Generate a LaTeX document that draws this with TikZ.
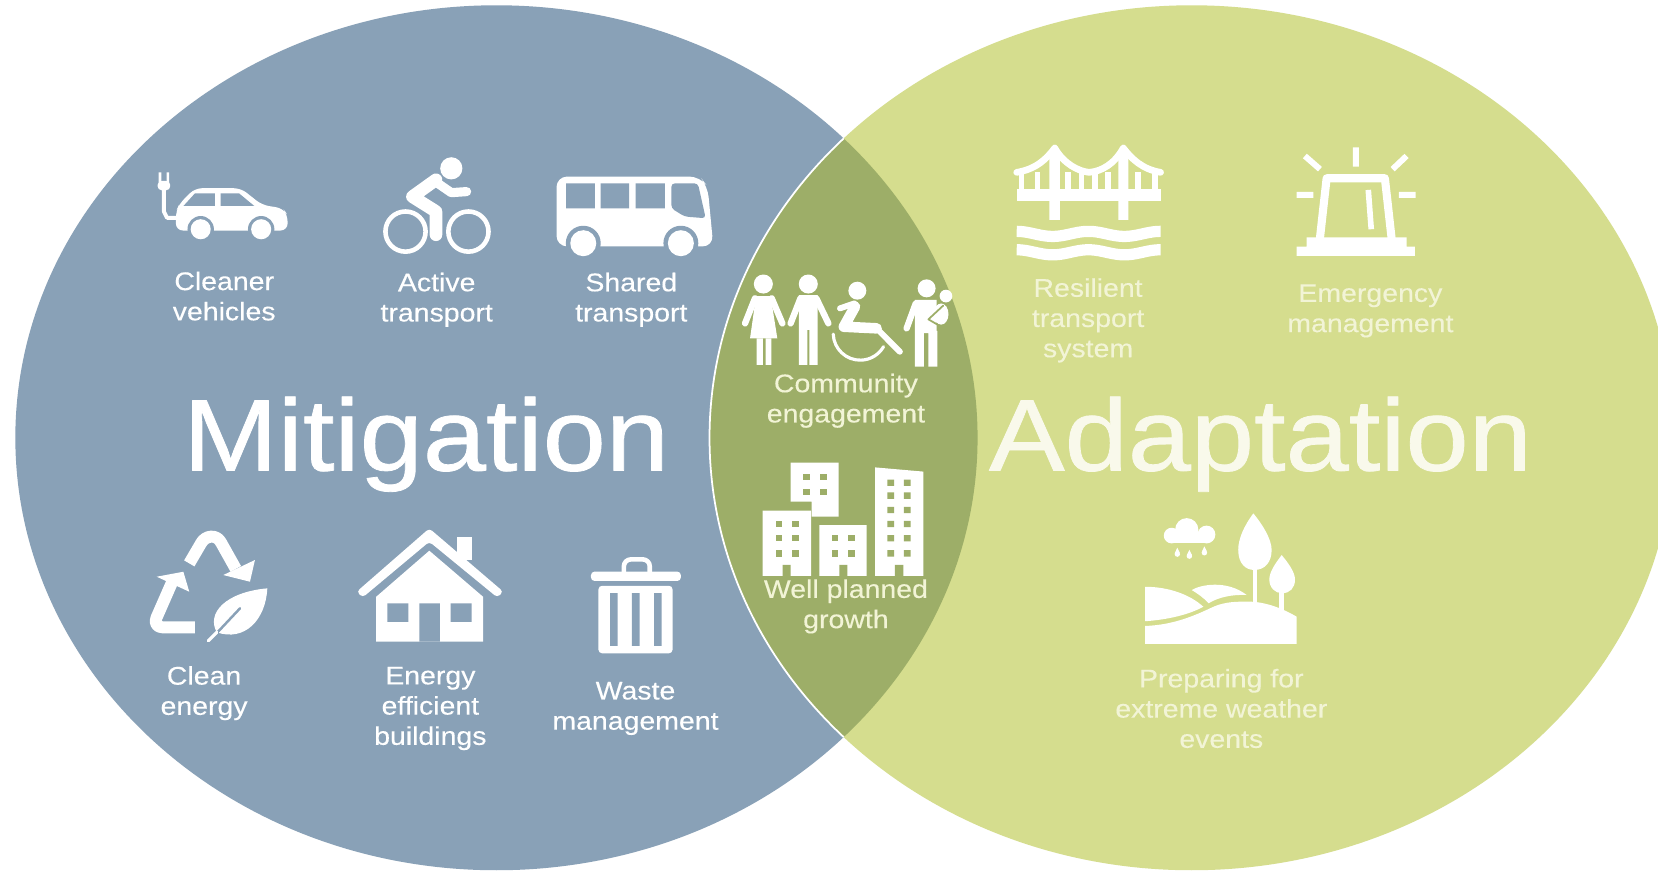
\documentclass[tikz,border=0pt]{standalone}
\usepackage{fontspec}
\setmainfont[FakeStretch=1.114,FakeBold=.25]{Liberation Sans}
\newfontfamily\bigfont[FakeStretch=1.114,FakeBold=.8]{Liberation Sans}
\definecolor{mitblue}{HTML}{89A1B7}
\definecolor{adagreen}{HTML}{D5DD8E}
\definecolor{lensgreen}{HTML}{9DAE68}
\definecolor{palew}{HTML}{F2F4D6}
\tikzset{
  lbl/.style={inner sep=0pt,align=center,text=white,font=\fontsize{7.27}{8.6}\selectfont},
  lblpale/.style={lbl,text=palew},
  bigword/.style={inner sep=0pt,anchor=base,font=\bigfont\fontsize{29}{34}\selectfont}
}
\begin{document}
\begin{tikzpicture}[x=.010574cm,y=-.010574cm,line join=round,line cap=round]
  \clip (0,0) rectangle (1568,822.8);
  \fill[white] (0,0) rectangle (1568,822.8);
  \fill[mitblue] (469.5,414) ellipse (455 and 409);
  \fill[adagreen] (1127,414) ellipse (456 and 409);
  \begin{scope}
    \clip (469.5,414) ellipse (455 and 409);
    \fill[lensgreen] (1127,414) ellipse (456 and 409);
    \draw[white,line width=.5pt] (1127,414) ellipse (456 and 409);
  \end{scope}
  % car
  \draw[white,line width=1.1pt] (155,176)--(155,200)--(158,206)--(170,206);
  \fill[white,rounded corners=1.2pt] (149,171) rectangle (161,180);
  \fill[white] (150,163) rectangle (152.5,172) (157.5,163) rectangle (160,172);
  \fill[white,rounded corners=2pt] (166.3,218)--(166.3,200)--(170,192.3)--(184.4,178)--(227.8,178)--(247.7,193.8)--(267.6,197)--(272,203.3)--(272,218)--cycle;
  \fill[mitblue] (173.5,194.8)--(184.4,182.8)--(203.2,182.8)--(203.2,194.8)--cycle (208.6,182.8)--(226,182.8)--(240.5,194.8)--(208.6,194.8)--cycle;
  \foreach \a in {189.8,247}{
    \fill[mitblue] (\a,216.8) circle(12.5);
    \fill[white] (\a,216.8) circle(9.5);
  }
  % cyclist
  \fill[white] (426.8,159.2) circle(10.5);
  \draw[white,line width=1.3pt] (383.5,219) circle(19) (443,219) circle(19);
  \draw[white,line width=3.6pt] (412.3,170)--(390,186)--(412.3,200)--(412.3,222);
  \draw[white,line width=2.6pt] (412,172)--(426.8,182.2)--(441.3,181.2);
  % bus
  \fill[white,rounded corners=3pt] (526.3,233)--(526.3,167)--(662,167)--(669.2,176.5)--(674.6,233)--cycle;
  \fill[mitblue] (535.4,173.4) rectangle (562.5,197) (567.9,173.4) rectangle (595,197) (601.2,173.4) rectangle (628.7,197);
  \fill[mitblue,rounded corners=1pt] (634.9,173.4)--(660,173.4)--(667.4,206.4)--(647.5,204.8)--(634.9,197)--cycle;
  \foreach \a in {551.6,643.9}{
    \fill[mitblue] (\a,230) circle(16.5);
    \fill[white] (\a,230) circle(12.3);
  }
  % recycle arrows and leaf
  \draw[white,line width=3.4pt,line cap=butt] (179,532.8)--(190,514) .. controls (194,506) and (205,505) .. (209,513)--(223,538);
  \fill[white] (241.1,529.6)--(211.2,543.8)--(236.4,550.1)--cycle;
  \draw[white,line width=3.4pt,line cap=butt,rounded corners=3pt] (184.4,593.3)--(144,593.3)--(163,550);
  \fill[white] (148.2,545.4)--(173.4,540.7)--(179,559.6)--cycle;
  \fill[white] (205,598) .. controls (195,580) and (213,560) .. (252.8,556.4) .. controls (251.3,586.3) and (231.4,607) .. (205,598);
  \draw[mitblue,line width=.7pt] (203.3,600.5)--(227,575.3);
  \draw[white,line width=.9pt] (197,606)--(205,598);
  % house
  \fill[white] (431.8,507.6) rectangle (446,530);
  \fill[white,rounded corners=1pt] (337.3,559.6)--(406,499.7)--(476,559.6)--(470.3,565)--(406,512.3)--(343,565)--cycle;
  \fill[white] (406,520.8)--(457,564.5)--(457,606.8)--(355.6,606.8)--(355.6,564.5)--cycle;
  \fill[mitblue] (366.3,570.6) rectangle (386.1,588) (426.2,570.6) rectangle (446,588) (396.5,570.6) rectangle (416,606.8);
  % bin
  \draw[white,line width=1.3pt,rounded corners=2pt] (590,541)--(590,529)--(614.5,529)--(614.5,541);
  \fill[white,rounded corners=1pt] (558.9,540.6) rectangle (643.9,549.4);
  \fill[white,rounded corners=1pt] (566,554) rectangle (636,617.8);
  \fill[mitblue] (576.9,561) rectangle (584.2,610.8) (597.6,561) rectangle (604.8,610.8) (618.6,561) rectangle (625.8,610.8);
  % people
  \fill[white] (721.9,268.6) circle(9) (764.4,268.6) circle(9) (810.8,274.9) circle(8.5) (876.3,272.7) circle(8.5);
  \fill[white] (715,280)--(728.8,280)--(735.1,320)--(709.3,320)--cycle;
  \fill[white] (715.6,320) rectangle (721.5,345) (724,320) rectangle (729.5,345);
  \draw[white,line width=1.8pt] (714,282.1)--(704.6,305.8) (729.8,282.1)--(739.9,305.8);
  \fill[white] (755.6,279) rectangle (773.3,312) (755.6,310) rectangle (763.5,345) (765.5,310) rectangle (773.3,345);
  \draw[white,line width=1.8pt] (757,282.1)--(747.7,305.8) (772,282.1)--(783.4,305.8);
  \draw[white,line width=3pt] (808.6,290)--(798,309)--(829,310.5);
  \draw[white,line width=1.7pt] (829,310.5)--(851,332.6) (794.4,291.6)--(808,287);
  \draw[white,line width=.9pt] (788,316) arc(178:30:25.5);
  \fill[white] (865.3,283.7) rectangle (885.8,315) (865.3,313) rectangle (873.8,346.8) (877.9,313) rectangle (886.4,346.8);
  \draw[white,line width=1.8pt] (866,287)--(857.4,310.5);
  \fill[white] (894.6,280) circle(6);
  \fill[white] (890,297) ellipse (7 and 10);
  \draw[lensgreen,line width=.5pt] (892,289)--(878,302)--(890,309);
  % buildings
  \fill[white] (747.7,437.5)--(793,437.5)--(793,488.6)--(767.6,488.6)--(767.6,474.4)--(747.7,474.4)--cycle;
  \fill[white] (721.3,483) rectangle (767,544.7) (774.8,496.5) rectangle (819.6,544.7);
  \fill[white] (827.5,442)--(873.2,446)--(873.2,544.7)--(827.5,544.7)--cycle;
  \foreach \a/\b in {762.9/450.8,778.6/450.8,762.9/465,778.6/465,
    736.7/495.5,752.5/495.5,736.7/509,752.5/509,736.7/523.3,752.5/523.3,
    789.7/509,805.4/509,789.7/523.3,805.4/523.3}{
    \fill[lensgreen] (\a-3.2,\b-3) rectangle (\a+3.2,\b+3);
  }
  \foreach \b in {456.5,468.7,482.3,495.5,509,523.3}{
    \fill[lensgreen] (839.1,\b-3) rectangle (845.5,\b+3) (854.8,\b-3) rectangle (861.2,\b+3);
  }
  \fill[lensgreen] (740.2,534.3) rectangle (747.7,544.7) (793.8,534.3) rectangle (801.3,544.7) (846.4,534.3) rectangle (854.3,544.7);
  % bridge
  \fill[white] (961.5,179) rectangle (1097.6,189.7);
  \fill[white] (992.4,145)--(996,137)--(999,137)--(1002.4,145)--(1002.4,208)--(992.4,208)--cycle;
  \fill[white] (1057.6,145)--(1061,137)--(1064,137)--(1067,145)--(1067,208)--(1057.6,208)--cycle;
  \draw[white,line width=1.9pt] (961.5,163) .. controls (980,160) and (990,150) .. (997.5,140) .. controls (1006,155) and (1020,162) .. (1030,163) .. controls (1042,162) and (1054,155) .. (1062.3,140) .. controls (1070,150) and (1080,160) .. (1097.6,163);
  \foreach \a in {966.2,981,1010.3,1022.9,1035.5,1048.1,1076.5,1092.3}{
    \draw[white,line width=1.6pt,line cap=butt] (\a,163)--(\a,180);
  }
  \foreach \b in {221.2,238.6}{
    \draw[white,line width=3.2pt,line cap=butt,smooth,samples=50,domain=961.5:1097.6] plot(\x,{\b+2.4*sin(5.3*(\x-961.5)-90)});
  }
  % alarm light
  \fill[white] (1226.2,233.2) rectangle (1338,242) (1235.7,224.4) rectangle (1330.2,233.2);
  \draw[white,line width=2.3pt] (1248.3,225)--(1254.6,168.6)--(1309.7,168.6)--(1316,225);
  \draw[white,line width=1.6pt,line cap=butt] (1294,179.6)--(1296.8,216.8);
  \draw[white,line width=1.7pt,line cap=butt] (1282.3,139.3)--(1282.3,157.6) (1234,147.5)--(1248.3,160) (1330.2,147.5)--(1317,160) (1226.2,184.4)--(1242,184.4) (1323,184.4)--(1338.8,184.4);
  % landscape
  \fill[white] (1082.9,554.9) .. controls (1105,555) and (1125,562) .. (1138,573.8) .. controls (1125,581) and (1105,586) .. (1082.9,587.5)--cycle;
  \fill[white] (1127,558) .. controls (1135,553) and (1160,548) .. (1179,562.7) .. controls (1165,562) and (1152,565) .. (1143,570.5) .. controls (1138,565) and (1132,561) .. (1127,558)--cycle;
  \fill[white] (1082.9,592) .. controls (1110,591) and (1130,582) .. (1145,575) .. controls (1155,570) and (1165,569) .. (1175.8,569) .. controls (1195,568) and (1212,575) .. (1226.3,583.2)--(1226.3,609)--(1082.9,609)--cycle;
  \draw[white,line width=1.3pt] (1186.9,535)--(1186.9,572);
  \draw[white,line width=1.5pt] (1212,555)--(1212,578);
  \fill[white] (1185.3,485.5) .. controls (1176,498) and (1171,510) .. (1171,520) .. controls (1171,533) and (1178,539) .. (1186,539) .. controls (1197,539) and (1202.6,531) .. (1202.6,520) .. controls (1202.6,510) and (1194,496) .. (1185.3,485.5);
  \fill[white] (1212.1,524.9) .. controls (1206,533) and (1200.4,541) .. (1200.4,548) .. controls (1200.4,556) and (1206,561) .. (1212.5,561) .. controls (1220,561) and (1224.7,556) .. (1224.7,548) .. controls (1224.7,541) and (1218,532) .. (1212.1,524.9);
  \foreach \a/\b/\c in {1122.3/501/11,1108/506.5/7.4,1141/505.5/8.4}{
    \fill[white] (\a,\b) circle(\c);
  }
  \fill[white] (1108,504) rectangle (1141,513.9);
  \foreach \a/\b in {1113.4/524,1124.8/525.9,1139/522.7}{
    \fill[white] (\a,\b) circle(2.6);
    \fill[white] (\a-2.4,\b-1)--(\a,\b-6)--(\a+2.4,\b-1)--cycle;
  }
  % labels
  \node[bigword,text=white] (mitig) at (403,445) {Mitigation};
  \node[bigword,text=palew!50!white] (adapt) at (1192,445) {Adaptation};
  \node[lbl] (cleaner) at (212,280) {Cleaner\\vehicles};
  \node[lbl] (active) at (413,283.5) {Active\\transport};
  \node[lbl] (shared) at (597,283.5) {Shared\\transport};
  \node[lbl] (clean) at (193,655.5) {Clean\\energy};
  \node[lbl] (effic) at (407,670) {Energy\\efficient\\buildings};
  \node[lbl] (waste) at (601,670) {Waste\\management};
  \node[lblpale] (commu) at (800,379) {Community\\engagement};
  \node[lblpale] (growth) at (800,573.5) {Well planned\\growth};
  \node[lblpale] (resil) at (1029,303) {Resilient\\transport\\system};
  \node[lblpale] (emerg) at (1296,294) {Emergency\\management};
  \node[lblpale] (prep) at (1155,670) {Preparing for\\extreme weather\\events};
\end{tikzpicture}
\end{document}
